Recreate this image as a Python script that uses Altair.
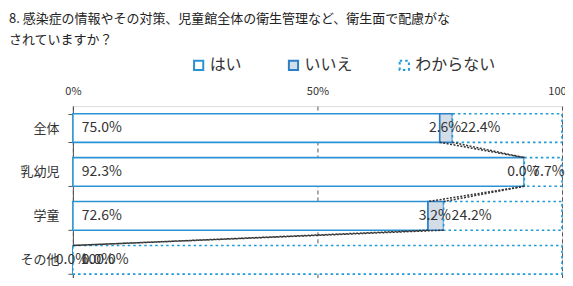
import altair as alt
import pandas as pd

FONT = "Noto Sans CJK JP"

cats = ["全体", "乳幼児", "学童", "その他"]
series = ["はい", "いいえ", "わからない"]
hai = [75.0, 92.3, 72.6, 0.0]
iie = [2.6, 0.0, 3.2, 0.0]
wakaranai = [22.4, 7.7, 24.2, 100.0]
title_lines = ["8. 感染症の情報やその対策、児童館全体の衛生管理など、衛生面で配慮がな",
               "されていますか？"]

rows = []
for i, c in enumerate(cats):
    vals = [hai[i], iie[i], wakaranai[i]]
    s = 0.0
    for j, name in enumerate(series):
        rows.append(dict(cat=c, series=name, order=j, start=s / 100,
                         end=(s + vals[j]) / 100, label=f"{vals[j]:.1f}%"))
        s += vals[j]
df = pd.DataFrame(rows)
df["mid"] = (df["start"] + df["end"]) / 2

lrows = []
for i in range(len(cats) - 1):
    lrows.append(dict(cat=cats[i], nxt=cats[i + 1], x=hai[i] / 100, x2=hai[i + 1] / 100))
    lrows.append(dict(cat=cats[i], nxt=cats[i + 1], x=(hai[i] + iie[i]) / 100,
                      x2=(hai[i + 1] + iie[i + 1]) / 100))
ldf = pd.DataFrame(lrows)

yscale = alt.Scale(domain=cats, paddingInner=0.348, paddingOuter=0.174)
xscale = alt.Scale(domain=[0, 1], nice=False)

y_enc = alt.Y("cat:N", sort=cats, scale=yscale,
              axis=alt.Axis(title=None, labelFontSize=13, labelColor="#333",
                            labelPadding=9, tickSize=5, tickBand="extent",
                            domainColor="#555", tickColor="#555", labelFont=FONT))
x_enc = alt.X("start:Q", scale=xscale,
              axis=alt.Axis(title=None, orient="top", values=[0, 0.5, 1], format="%",
                            labelFontSize=11, labelColor="#333", grid=True,
                            gridDash=[4, 3], gridColor="#555", domain=False,
                            ticks=False, labelPadding=10, labelFlush=False))

legend = alt.Legend(title=None, orient="none", legendX=118, legendY=-49,
                    direction="horizontal", symbolType="square", symbolSize=85,
                    symbolStrokeWidth=2, labelFontSize=16, labelColor="#333",
                    labelFont=FONT, columnPadding=42, labelOffset=3)

bars = alt.Chart(df).mark_bar(strokeWidth=1.6).encode(
    x=x_enc,
    x2="end:Q",
    y=y_enc,
    fill=alt.Fill("series:N", sort=series,
                  scale=alt.Scale(domain=series, range=["#ffffff", "#d3dde8", "#ffffff"]),
                  legend=legend),
    stroke=alt.Stroke("series:N", sort=series,
                      scale=alt.Scale(domain=series, range=["#2a93d4", "#2a7fc8", "#1f9ad6"]),
                      legend=legend),
    strokeDash=alt.StrokeDash("series:N", sort=series,
                              scale=alt.Scale(domain=series, range=[[1, 0], [1, 0], [2.5, 3]]),
                              legend=legend),
    order=alt.Order("order:Q"),
)

lines = alt.Chart(ldf).mark_rule(strokeDash=[2, 1.5], color="#333", strokeWidth=1.5).encode(
    x=alt.X("x:Q", scale=xscale),
    x2="x2:Q",
    y=alt.Y("cat:N", sort=cats, scale=yscale, bandPosition=1),
    y2=alt.Y2("nxt:N", bandPosition=0),
)

txt_base = alt.Chart(df)
t_hai = txt_base.transform_filter(alt.datum.series == "はい").mark_text(
    align="left", dx=9, fontSize=14, color="#333", font=FONT).encode(
    x=alt.X("start:Q", scale=xscale), y=alt.Y("cat:N", sort=cats, scale=yscale), text="label:N")
t_iie = txt_base.transform_filter(alt.datum.series == "いいえ").mark_text(
    align="center", dx=-1, fontSize=14, color="#333", font=FONT).encode(
    x=alt.X("mid:Q", scale=xscale), y=alt.Y("cat:N", sort=cats, scale=yscale), text="label:N")
t_wak = txt_base.transform_filter(alt.datum.series == "わからない").mark_text(
    align="left", dx=8, fontSize=14, color="#333", font=FONT).encode(
    x=alt.X("start:Q", scale=xscale), y=alt.Y("cat:N", sort=cats, scale=yscale), text="label:N")

chart = alt.layer(bars, lines, t_hai, t_iie, t_wak).properties(
    width=490, height=176,
    padding={"left": 0, "top": 5, "right": -12, "bottom": -4},
    title=alt.TitleParams(title_lines, anchor="start", fontSize=13, fontWeight="normal",
                          color="#222", dx=-11, offset=10, lineHeight=21, font=FONT),
).configure_view(stroke="#999", strokeWidth=1).configure(font=FONT)

chart.save("out.html", embed_options={"renderer": "svg", "actions": False})
